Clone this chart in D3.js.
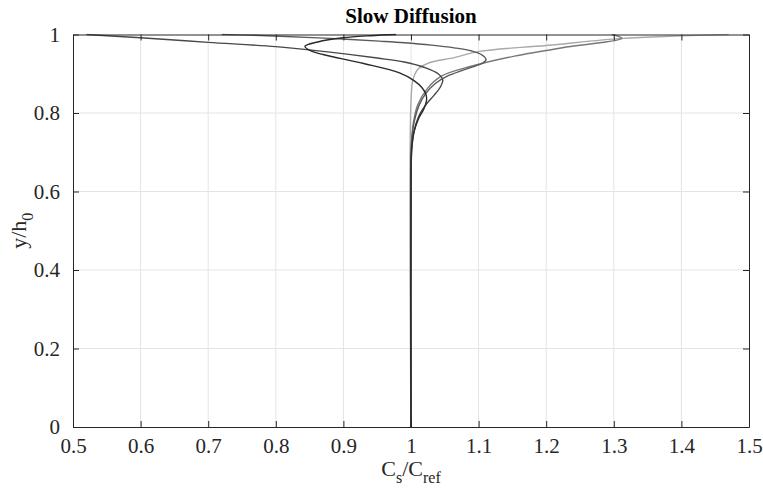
<!DOCTYPE html>
<html><head><meta charset="utf-8">
<script src="https://cdn.jsdelivr.net/npm/d3@7"></script>
<style>body{margin:0;background:#fff;} svg{display:block;}</style>
</head><body>
<svg id="chart" width="763" height="493"></svg>
<script>
// ---- data ----
const xTicks = [0.5,0.6,0.7,0.8,0.9,1,1.1,1.2,1.3,1.4,1.5];
const yTicks = [0,0.2,0.4,0.6,0.8,1];

const curveD1X = [0.978,0.94,0.899,0.862,0.843,0.852,0.87,0.93,0.983,1.005,1.016,1.022,1.023,1.019,1.011,1.005,1.001,1.0,1.0];
const curveD1Y = [1.0,0.997,0.9916,0.981,0.970,0.958,0.949,0.926,0.902,0.882,0.865,0.848,0.832,0.81,0.785,0.755,0.71,0.65,0.0];

const curveAX = [0.52,0.60,0.70,0.80,0.88,0.95,0.99,1.02,1.040,1.047,1.043,1.034,1.022,1.011,1.004,1.001,1.0,1.0];
const curveAY = [1.0,0.9917,0.980,0.969,0.955,0.940,0.930,0.916,0.900,0.884,0.865,0.845,0.821,0.79,0.75,0.70,0.64,0.0];

const curveMX = [0.72,0.76,0.806,0.88,0.953,0.990,1.03,1.064,1.090,1.104,1.111,1.106,1.094,1.075,1.055,1.036,1.022,1.012,1.005,1.001,1.0,1.0];
const curveMY = [1.0,0.9985,0.9957,0.990,0.983,0.979,0.973,0.966,0.958,0.949,0.936,0.927,0.919,0.908,0.895,0.875,0.85,0.82,0.78,0.73,0.67,0.0];

const curvePX = [1.297,1.312,1.23,1.153,1.089,1.045,1.025,1.010,1.004,1.001,1.0,1.0];
const curvePY = [1.0,0.990,0.968,0.945,0.919,0.894,0.864,0.821,0.78,0.73,0.66,0.0];

const curveLX = [1.47,1.39,1.312,1.20,1.101,1.064,1.027,1.010,1.003,1.0,1.0];
const curveLY = [1.0,0.996,0.990,0.972,0.957,0.941,0.928,0.911,0.885,0.83,0.0];

const seriesList = [
  {x: curveLX, y: curveLY, color: "#a9a9a9"},
  {x: curvePX, y: curvePY, color: "#787878"},
  {x: curveMX, y: curveMY, color: "#5a5a5a"},
  {x: curveAX, y: curveAY, color: "#484848"},
  {x: curveD1X, y: curveD1Y, color: "#2a2a2a"}
];

// ---- layout ----
const svg = d3.select("#chart");
const L = 73, R = 749, T = 34.5, B = 427;
const x = d3.scaleLinear().domain([0.5,1.5]).range([L,R]);
const y = d3.scaleLinear().domain([0,1]).range([B,T]);
const font = "'Liberation Serif','Times New Roman',serif";

// grid
svg.append("g").selectAll("line").data(xTicks.slice(1,-1)).join("line")
  .attr("x1",d=>x(d)).attr("x2",d=>x(d)).attr("y1",T).attr("y2",B)
  .attr("stroke","#e4e4e4").attr("stroke-width",1);
svg.append("g").selectAll("line").data(yTicks.slice(1,-1)).join("line")
  .attr("y1",d=>y(d)).attr("y2",d=>y(d)).attr("x1",L).attr("x2",R)
  .attr("stroke","#e4e4e4").attr("stroke-width",1);

// curves
svg.append("clipPath").attr("id","clip").append("rect")
  .attr("x",L).attr("y",T-1).attr("width",R-L).attr("height",B-T+1);
const line = d3.line().x(d=>x(d[0])).y(d=>y(d[1])).curve(d3.curveCatmullRom.alpha(0.5));
svg.append("g").attr("clip-path","url(#clip)").selectAll("path").data(seriesList).join("path")
  .attr("d",s=>line(s.x.map((v,i)=>[v,s.y[i]])))
  .attr("fill","none").attr("stroke",s=>s.color).attr("stroke-width",1.4);

// axes (box with inward ticks)
const tl = -6;
const axB = d3.axisBottom(x).tickValues(xTicks).tickSizeInner(tl).tickSizeOuter(0).tickPadding(11).tickFormat(d3.format("~g"));
const axT = d3.axisTop(x).tickValues(xTicks).tickSizeInner(tl).tickSizeOuter(0).tickFormat("");
const axL = d3.axisLeft(y).tickValues(yTicks).tickSizeInner(tl).tickSizeOuter(0).tickPadding(13).tickFormat(d3.format("~g"));
const axR = d3.axisRight(y).tickValues(yTicks).tickSizeInner(tl).tickSizeOuter(0).tickFormat("");
function style(g){
  g.select(".domain").attr("stroke","#262626").attr("stroke-width",1);
  g.selectAll(".tick line").attr("stroke","#262626");
  g.selectAll("text").attr("fill","#262626").style("font-family",font).style("font-size","21px");
}
svg.append("g").attr("transform",`translate(0,${B})`).call(axB).call(style);
svg.append("g").attr("transform",`translate(0,${T})`).call(axT).call(style);
svg.append("g").attr("transform",`translate(${L},0)`).call(axL).call(style);
svg.append("g").attr("transform",`translate(${R},0)`).call(axR).call(style);

// title
svg.append("text").attr("x",411).attr("y",23).attr("text-anchor","middle")
  .style("font-family",font).style("font-size","21px").style("font-weight","bold")
  .attr("fill","#000").text("Slow Diffusion");

// x label
const xl = svg.append("text").attr("x",411).attr("y",476).attr("text-anchor","middle")
  .style("font-family",font).style("font-size","22px").attr("fill","#262626");
xl.append("tspan").text("C");
xl.append("tspan").attr("dy",7).style("font-size","16px").text("s");
xl.append("tspan").attr("dy",-7).text("/C");
xl.append("tspan").attr("dy",7).style("font-size","16px").text("ref");

// y label
const yl = svg.append("text").attr("transform",`translate(26,${(T+B)/2}) rotate(-90)`).attr("text-anchor","middle")
  .style("font-family",font).style("font-size","22px").attr("fill","#262626");
yl.append("tspan").text("y/h");
yl.append("tspan").attr("dy",7).style("font-size","16px").text("0");
</script>
</body></html>
